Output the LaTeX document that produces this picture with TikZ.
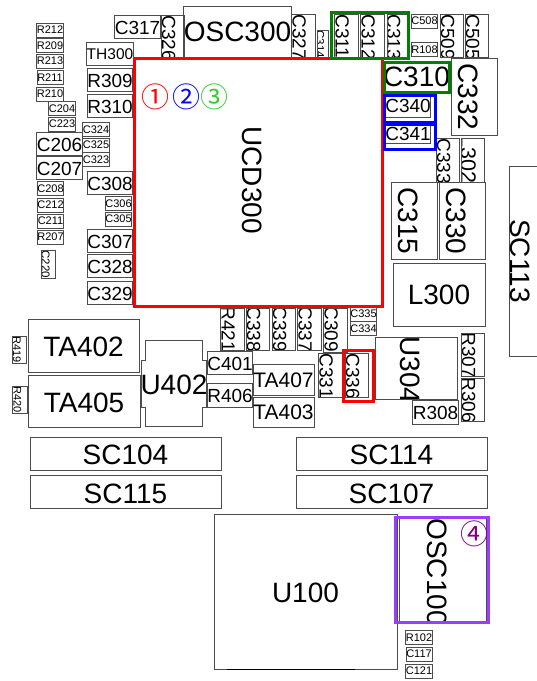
\documentclass[tikz,border=0pt]{standalone}
\usepackage{fontspec}
\setmainfont{Liberation Sans}
\newfontfamily\markfont{Noto Sans CJK SC}
\usetikzlibrary{calc}
\definecolor{partline}{gray}{0.3}
\definecolor{markgreen}{RGB}{50,205,50}
\definecolor{hlpurple}{RGB}{155,60,255}
\newcommand{\fs}[1]{\fontsize{#1}{#1}\selectfont}
\tikzset{
    part/.style={draw=partline, line width=0.8pt, inner sep=0pt},
    wh/.style 2 args={minimum width=#1, minimum height=#2},
    smallpart/.style={part, wh={26}{14}, font=\fs{11}},
    midpart/.style={part, wh={44}{23}, font=\fs{19}, text height=16pt},
    midflat/.style={midpart, text height=13.6pt},
    bigpart/.style={part, font=\fs{28}},
    bigdown/.style={bigpart, text height=23pt},
    vtext/.style n args={3}{path picture={
        \node[xshift=-0.2*#1 pt, yshift=-#3 pt, rotate=-90, anchor=west, inner sep=0pt,
            minimum width=0pt, minimum height=0pt, draw=none, font=\fs{#1}] (#2 text)
            at (path picture bounding box.north) {#2};}},
    hl/.style={draw=#1, line width=3pt, inner sep=0pt},
    digitmark/.style={inner sep=0pt, font=\markfont\fs{28}}}

\begin{document}
\begin{tikzpicture}[x=1pt, y=-1pt]
    \useasboundingbox (0, 0) rectangle (537, 681);
    \clip (0, 0) rectangle (537, 681);
    \node[smallpart] at (50, 30) (r212) {R212};
    \node[smallpart] at (50, 45.5) (r209) {R209};
    \node[smallpart] at (50, 61) (r213) {R213};
    \node[smallpart] at (50, 77.5) (r211) {R211};
    \node[smallpart] at (50, 94) (r210) {R210};
    \node[smallpart] at (62, 108.5) (c204) {C204};
    \node[smallpart] at (62, 124) (c223) {C223};
    \node[smallpart] at (96, 129.5) (c324) {C324};
    \node[smallpart] at (96, 145) (c325) {C325};
    \node[smallpart] at (96, 159.5) (c323) {C323};
    \node[smallpart] at (50.5, 188.5) (c208) {C208};
    \node[smallpart] at (50.5, 205) (c212) {C212};
    \node[smallpart] at (50.5, 221) (c211) {C211};
    \node[smallpart] at (50.5, 237) (r207) {R207};
    \node[smallpart] at (118.5, 203.5) (c306) {C306};
    \node[smallpart] at (118.5, 219) (c305) {C305};
    \node[smallpart] at (424.5, 21) (c508) {C508};
    \node[smallpart] at (424.5, 49.5) (r108) {R108};
    \node[smallpart] at (363.5, 314) (c335) {C335};
    \node[smallpart] at (363.5, 328.5) (c334) {C334};
    \node[smallpart] at (419, 637.5) (r102) {R102};
    \node[smallpart] at (419, 654) (c117) {C117};
    \node[smallpart] at (419, 671) (c121) {C121};

    \node[midpart, wh={43}{23}] at (137.5, 26.5) (c317) {C317};
    \node[midpart, font=\fs{15.5}, text height=12pt] at (110, 54) (th300) {TH300};
    \node[midpart] at (110, 80) (r309) {R309};
    \node[midpart] at (110, 106) (r310) {R310};
    \node[midpart] at (110, 182.5) (c308) {C308};
    \node[midpart] at (110, 240.5) (c307) {C307};
    \node[midpart] at (110, 266) (c328) {C328};
    \node[midpart] at (110, 292.5) (c329) {C329};
    \node[midpart, wh={45}{23}] at (59.5, 143.5) (c206) {C206};
    \node[midpart, wh={45}{23}] at (59.5, 167.5) (c207) {C207};
    \node[midflat, wh={44}{22}] at (408, 106) (c340) {C340};
    \node[midflat, wh={44}{19}] at (408, 133.5) (c341) {C341};
    \node[midpart] at (230, 362.5) (c401) {C401};
    \node[midpart, wh={44}{24}] at (230, 395) (r406) {R406};
    \node[midpart, wh={43}{24}] at (435.5, 412) (r308) {R308};
    \node[midpart, wh={61}{31}, font=\fs{21}, text height=15.4pt] at (283.5, 379.5) (ta407) {TA407};
    \node[midpart, wh={61}{30}, font=\fs{21}, text height=15.4pt] at (283.5, 412) (ta403) {TA403};

    \node[part, wh={23}{42}, vtext={19}{C326}{0}] at (172.5, 36) (c326) {};
    \node[part, wh={24}{43}, vtext={19}{C327}{0}] at (303, 35.5) (c327) {};
    \node[part, wh={11}{27}, vtext={11.5}{C314}{0}] at (322.5, 43.5) (c314) {};
    \node[part, wh={24}{43}, vtext={19}{C311}{0}] at (346, 35.5) (c311) {};
    \node[part, wh={24}{43}, vtext={19}{C312}{0}] at (372, 35.5) (c312) {};
    \node[part, wh={21}{43}, vtext={19}{C313}{0}] at (397.5, 35.5) (c313) {};
    \node[part, wh={23}{43}, vtext={19}{C509}{0}] at (451.5, 35.5) (c509) {};
    \node[part, wh={23}{43}, vtext={19}{C505}{0}] at (476.5, 35.5) (c505) {};
    \node[part, wh={23}{44}, vtext={19}{C333}{0}] at (447.5, 160) (c333) {};
    \node[part, wh={23}{44}, vtext={21.5}{L302}{-2.5}] at (472.5, 160) (l302) {};
    \node[part, wh={24}{42}, vtext={19}{R421}{-2}] at (232, 329) (r421) {};
    \node[part, wh={23}{42}, vtext={19}{C338}{-2}] at (257.5, 329) (c338) {};
    \node[part, wh={23}{42}, vtext={19}{C339}{-2}] at (283.5, 329) (c339) {};
    \node[part, wh={24}{42}, vtext={19}{C337}{-2}] at (309, 329) (c337) {};
    \node[part, wh={24}{44}, vtext={19}{C309}{-2}] at (335, 330) (c309) {};
    \node[part, wh={24}{44}, vtext={19}{C331}{0}] at (330, 375) (c331) {};
    \node[part, wh={23}{44}, vtext={19}{C336}{0}] at (356.5, 375) (c336) {};
    \node[part, wh={23}{43}, vtext={19}{R307}{-1}] at (472.5, 354.5) (r307) {};
    \node[part, wh={23}{43}, vtext={19}{R306}{-1}] at (472.5, 399.5) (r306) {};
    \node[part, wh={14}{27}, vtext={11}{R419}{0}] at (19, 349.5) (r419) {};
    \node[part, wh={15}{27}, vtext={11}{R420}{0}] at (19.5, 399.5) (r420) {};
    \node[part, wh={14}{28}, vtext={11.5}{C220}{0}] at (48, 264) (c220) {};
    \node[part, wh={46}{77}, vtext={28}{C332}{5}] at (474, 96.5) (c332) {};
    \node[part, wh={46}{77}, vtext={28}{C315}{5}] at (414, 220.5) (c315) {};
    \node[part, wh={46}{77}, vtext={28}{C330}{5}] at (462, 220.5) (c330) {};
    \node[part, wh={82}{62}, vtext={28}{U304}{-1}] at (416, 368) (u304) {};
    \node[part, wh={87}{106}, vtext={28}{OSC100}{2}] at (442.5, 569) (osc100) {};
    \node[part, wh={60}{190}] at (539, 261) (sc113) {};
    \node[font=\fs{28}, rotate=-90, inner sep=0pt] at (520, 261) (sc113text) {SC113};

    \node[bigpart, wh={103}{51}] at (237.5, 31.5) (osc300) {OSC300};
    \node[bigpart, wh={61}{28}] at (416.5, 77) (c310) {C310};
    \node[bigpart, wh={92}{63}] at (439, 294.5) (l300) {L300};
    \node[bigdown, wh={111}{53}] at (83.5, 345.5) (ta402) {TA402};
    \node[bigdown, wh={112}{52}] at (84, 401) (ta405) {TA405};
    \node[bigdown, wh={183}{155}] at (305.5, 591.5) (u100) {U100};
    \node[bigdown, wh={191}{33}] at (125.5, 453.5) (sc104) {SC104};
    \node[bigdown, wh={191}{33}] at (125.5, 492) (sc115) {SC115};
    \node[bigdown, wh={191}{33}] at (391.5, 453.5) (sc114) {SC114};
    \node[bigdown, wh={191}{33}] at (391.5, 492) (sc107) {SC107};
    \draw[line width=1.6pt] ($(u100.south west) + (13, 0)$) -- ($(u100.south west) + (141, 0)$);

    \draw[partline, line width=0.8pt] (145.7, 340.7) -- ++(0, 19.3) -- ++(-4, 0) -- ++(0, 47.3) -- ++(4, 0)
        -- ++(0, 19.4) -- ++(56.6, 0) -- ++(0, -19.4) -- ++(4.4, 0) -- ++(0, -47.3) -- ++(-4.4, 0) -- ++(0, -19.3) -- cycle;
    \node[font=\fs{28}, inner sep=0pt] at (174, 385) (u402) {U402};

    \node[hl=red, wh={248}{248}, vtext={28}{UCD300}{67}] at (258, 182) (ucd300) {};
    \node[hl=red, wh={30}{51}] at (358, 375.5) (hlc336) {};
    \node[hl=green!50!black, wh={77.5}{46}] at (369.75, 35) (hlc311) {};
    \node[hl=green!50!black, wh={64.7}{30}] at (417.15, 77) (hlc310) {};
    \node[hl=blue, wh={51}{27}] at (409.5, 109) (hlc340) {};
    \node[hl=blue, wh={51}{25}] at (409.5, 137) (hlc341) {};
    \node[hl=hlpurple, wh={93}{105}] at (442, 570) (hlosc100) {};

    \node[digitmark, text=red] at (155, 97) (one) {①};
    \node[digitmark, text=blue] at (186, 97) (two) {②};
    \node[digitmark, text=markgreen] at (214, 97) (three) {③};
    \node[digitmark, text=violet] at (474, 534) (four) {④};
\end{tikzpicture}
\end{document}
